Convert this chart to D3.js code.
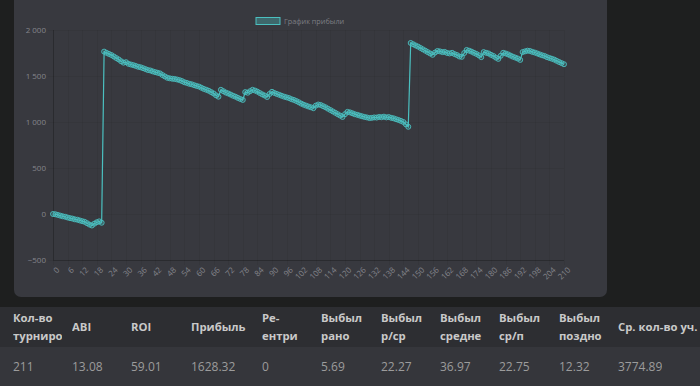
<!DOCTYPE html>
<html>
<head>
<meta charset="utf-8">
<script src="https://cdn.jsdelivr.net/npm/d3@7"></script>
<style>
  html, body { margin: 0; padding: 0; background: #1e1f1f; width: 700px; height: 386px; overflow: hidden; }
  .chart { position: absolute; left: 0; top: 0; }
  .tbl { position: absolute; left: 0; width: 700px; font-family: "Open Sans", sans-serif; }
  .cell { position: absolute; overflow: hidden; white-space: normal; }
  .head .cell { font-weight: bold; font-size: 11.3px; line-height: 18px; color: #c9c9c9; }
  .body .cell { font-size: 12px; color: #9c9c9c; }
</style>
</head>
<body>
<svg class="chart" width="700" height="300"></svg>
<div class="tbl head" style="top:307px;height:40px;background:#2d2e32"></div>
<div class="tbl body" style="top:347px;height:39px;background:#35363b"></div>
<script>
  // profit curve, one value per tournament (0..210)
  const profit = [
    0, -3, -10, -18, -25, -30, -38, -45, -50, -58, -62, -70, -78, -85, -100, -115, -125, -105, -90, -80, -95,
    1765, 1752, 1740, 1728, 1712, 1695, 1680, 1660, 1645, 1650, 1632, 1625, 1618, 1610, 1600, 1595, 1585,
    1575, 1565, 1560, 1550, 1542, 1535, 1528, 1510, 1495, 1480, 1475, 1470, 1468, 1462, 1455,
    1445, 1432, 1425, 1415, 1410, 1400, 1392, 1385, 1372, 1360, 1350, 1340, 1325, 1310, 1290, 1275,
    1350, 1335, 1320, 1310, 1298, 1285, 1275, 1262, 1250, 1240, 1325, 1318, 1335, 1350, 1342,
    1330, 1315, 1300, 1288, 1272, 1305, 1328, 1315, 1305, 1295, 1285, 1275, 1268, 1260, 1248, 1240,
    1228, 1215, 1200, 1188, 1178, 1168, 1160, 1150, 1178, 1190, 1185,
    1172, 1160, 1145, 1130, 1115, 1100, 1085, 1070, 1055, 1085, 1110, 1105,
    1095, 1085, 1078, 1070, 1062, 1055, 1050, 1043, 1045, 1050, 1048, 1055, 1052, 1058, 1050, 1054,
    1045, 1040, 1030, 1022, 1012, 1000, 975, 948,
    1859, 1845, 1832, 1820, 1805, 1790, 1775, 1760, 1745, 1730, 1755, 1772,
    1768, 1760, 1762, 1750, 1745, 1752, 1738, 1728, 1712, 1708, 1750, 1783,
    1775, 1765, 1752, 1740, 1725, 1705, 1760, 1752, 1745, 1730, 1718, 1700, 1686, 1720, 1752,
    1745, 1735, 1722, 1710, 1700, 1690, 1675, 1760, 1768, 1775, 1772,
    1762, 1755, 1745, 1735, 1725, 1718, 1705, 1696, 1688, 1678, 1665, 1652, 1640, 1628
  ];
  const yTicks = [-500, 0, 500, 1000, 1500, 2000];
  const xTickStep = 6;
  const legendLabel = 'График прибыли';

  const headers = ['Кол-во турниров', 'ABI', 'ROI', 'Прибыль', 'Ре-ентри', 'Выбыл рано',
    'Выбыл р/ср', 'Выбыл средне', 'Выбыл ср/п', 'Выбыл поздно', 'Ср. кол-во уч.'];
  const values = ['211', '13.08', '59.01', '1628.32', '0', '5.69', '22.27', '36.97', '22.75', '12.32', '3774.89'];

  const teal = 'rgb(75,192,192)';
  const svg = d3.select('.chart');

  // card
  svg.append('rect')
    .attr('x', 14).attr('y', -10)
    .attr('width', 593).attr('height', 307)
    .attr('rx', 7)
    .attr('fill', '#38393f');

  const x = d3.scaleLinear().domain([0, profit.length - 1]).range([53, 564]);
  const y = d3.scaleLinear().domain([-500, 2000]).range([260, 30]);

  const xTickVals = d3.range(0, profit.length, xTickStep);
  const fmt = v => d3.format(',')(v).replace(/,/g, ' ');

  // grid
  const grid = svg.append('g').attr('stroke', 'rgba(0,0,0,0.05)').attr('stroke-width', 1);
  grid.selectAll('.gy').data(yTicks).enter().append('line')
    .attr('x1', 48).attr('x2', 564)
    .attr('y1', d => Math.round(y(d)) + 0.5).attr('y2', d => Math.round(y(d)) + 0.5);
  grid.selectAll('.gx').data(xTickVals).enter().append('line')
    .attr('x1', d => Math.round(x(d)) + 0.5).attr('x2', d => Math.round(x(d)) + 0.5)
    .attr('y1', 30).attr('y2', 265);
  svg.append('line')
    .attr('x1', 53.5).attr('x2', 53.5).attr('y1', 30).attr('y2', 260)
    .attr('stroke', 'rgba(0,0,0,0.2)');
  svg.append('line')
    .attr('x1', 53).attr('x2', 564).attr('y1', 260.5).attr('y2', 260.5)
    .attr('stroke', 'rgba(0,0,0,0.2)');

  // y axis
  const yAxis = d3.axisLeft(y).tickValues(yTicks).tickSize(0).tickPadding(0).tickFormat(fmt);
  svg.append('g')
    .attr('transform', 'translate(46,0)')
    .call(yAxis)
    .call(g => g.select('.domain').remove())
    .selectAll('text')
    .attr('fill', '#84858b')
    .style('font-family', 'Open Sans, sans-serif')
    .style('font-size', '8px');

  // x axis
  const xAxis = d3.axisBottom(x).tickValues(xTickVals).tickSize(0).tickPadding(0);
  svg.append('g')
    .attr('transform', 'translate(0,265)')
    .call(xAxis)
    .call(g => g.select('.domain').remove())
    .selectAll('text')
    .attr('fill', '#84858b')
    .style('font-family', 'Open Sans, sans-serif')
    .style('font-size', '8px')
    .attr('text-anchor', 'end')
    .attr('dy', '0.6em')
    .attr('transform', 'translate(3,2) rotate(-45)');

  // line
  const line = d3.line().x((d, i) => x(i)).y(d => y(d));
  svg.append('path')
    .attr('d', line(profit))
    .attr('fill', 'none')
    .attr('stroke', teal)
    .attr('stroke-width', 1.2);

  svg.append('g').selectAll('circle')
    .data(profit).enter().append('circle')
    .attr('cx', (d, i) => x(i))
    .attr('cy', d => y(d))
    .attr('r', 2.5)
    .attr('fill', 'rgba(75,192,192,0.2)')
    .attr('stroke', teal)
    .attr('stroke-width', 0.9);

  // legend
  svg.append('rect')
    .attr('x', 256).attr('y', 17.5).attr('width', 24).attr('height', 7)
    .attr('fill', 'rgba(75,192,192,0.35)')
    .attr('stroke', teal).attr('stroke-width', 1);
  svg.append('text')
    .attr('x', 284).attr('y', 24)
    .attr('fill', '#7d7e84')
    .style('font-family', 'Open Sans, sans-serif')
    .style('font-size', '7.3px')
    .text(legendLabel);

  // table
  const colX = [13, 72, 131, 191, 262, 321, 381, 440, 499, 559, 618];
  const colW = [49, 52, 52, 64, 52, 52, 52, 52, 52, 52, 82];

  d3.select('.head').selectAll('.cell')
    .data(headers).enter().append('div')
    .attr('class', 'cell')
    .style('left', (d, i) => colX[i] + 'px')
    .style('width', (d, i) => colW[i] + 'px')
    .style('top', d => (d.indexOf(' ') > 0 || d.indexOf('-') > 0) && d !== 'Ср. кол-во уч.' ? '2px' : '11px')
    .style('white-space', d => d === 'Ср. кол-во уч.' ? 'nowrap' : 'normal')
    .style('height', '36px')
    .text(d => d);

  d3.select('.body').selectAll('.cell')
    .data(values).enter().append('div')
    .attr('class', 'cell')
    .style('left', (d, i) => colX[i] + 'px')
    .style('top', '11px')
    .text(d => d);
</script>
</body>
</html>
